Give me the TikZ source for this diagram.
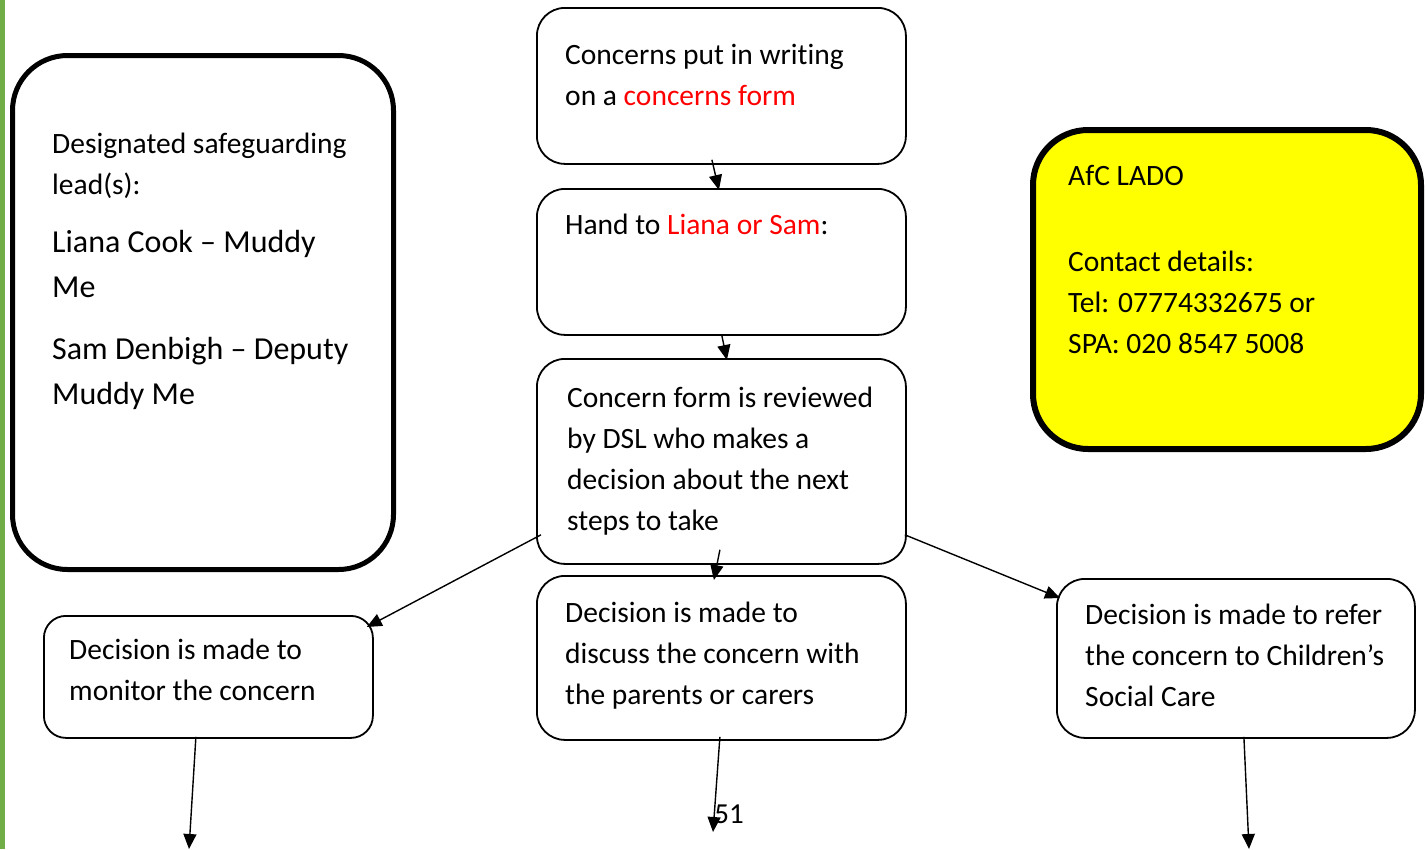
\documentclass[tikz,border=0pt]{standalone}
\usepackage{fontspec}
\setmainfont{Carlito}[Ligatures=NoCommon]
\usepackage{tikz}
\usetikzlibrary{positioning,arrows.meta}
\definecolor{barGreen}{HTML}{70AD47}
\definecolor{formRed}{HTML}{FF0000}
\definecolor{ladoYellow}{HTML}{FFFF00}
\tikzset{
  box/.style={draw,line width=1.8pt,rounded corners=28pt,anchor=north west,inner sep=0pt},
  bigbox/.style={box,line width=5pt,rounded corners=55pt},
  txt/.style={anchor=north west,inner sep=0pt,align=left,font=\fontsize{29.5}{41}\selectfont},
  bigtxt/.style={txt,font=\fontsize{32}{45}\selectfont},
  arr/.style={line width=1.4pt,-{Triangle[length=15pt,width=13pt]}}
}

\begin{document}
\begin{tikzpicture}[x=1pt,y=-1pt]
    \useasboundingbox (0,0) rectangle (1427,849);
    \fill[barGreen] (0,0) rectangle (5,849);

    % boxes
    \node[bigbox,minimum width=381pt,minimum height=514pt] (dsl) at (10,53) {};
    \node[bigbox,fill=ladoYellow,line width=6pt,minimum width=388pt,minimum height=319pt] (lado) at (1030,127) {};
    \node[box,minimum width=369pt,minimum height=156pt] (writing) at (536,7) {};
    \node[box,minimum width=369pt,minimum height=146pt] (hand) at (536,188) {};
    \node[box,minimum width=369pt,minimum height=205pt] (review) at (536,358) {};
    \node[box,minimum width=369pt,minimum height=164pt] (discuss) at (536,575) {};
    \node[box,rounded corners=22pt,minimum width=329pt,minimum height=122pt] (monitor) at (43,615) {};
    \node[box,minimum width=358pt,minimum height=159pt] (refer) at (1056,578) {};

    % texts
    \node[txt] (dslhead) at (52,133) {Designated safeguarding\\lead(s):};
    \node[bigtxt] (dslcook) at (52,230) {Liana Cook -- Muddy\\Me};
    \node[bigtxt] (dsldeputy) at (52,337) {Sam Denbigh -- Deputy\\Muddy Me};
    \node[txt] (ladotxt) at (1068,165) {AfC LADO\\[45pt]Contact details:\\Tel: 07774332675 or\\SPA: 020 8547 5008};
    \node[txt] (writingtxt) at (565,44) {Concerns put in writing\\on a \textcolor{formRed}{concerns form}};
    \node[txt] (handtxt) at (565,214) {Hand to \textcolor{formRed}{Liana or Sam}:};
    \node[txt] (reviewtxt) at (567,387) {Concern form is reviewed\\by DSL who makes a\\decision about the next\\steps to take};
    \node[txt] (discusstxt) at (565,602) {Decision is made to\\discuss the concern with\\the parents or carers};
    \node[txt] (monitortxt) at (69,639) {Decision is made to\\monitor the concern};
    \node[txt] (refertxt) at (1085,604) {Decision is made to refer\\the concern to Children’s\\Social Care};
    \node[font=\fontsize{29}{30}\selectfont,inner sep=0pt] (pagenum) at (729,814) {51};

    % arrows
    \coordinate (monitorEnd) at (189,849);
    \coordinate (discussEnd) at (713,832);
    \coordinate (referEnd) at (1249,849);
    \draw[arr] ([xshift=-9.5pt,yshift=5pt]writing.south) -- ([xshift=-2.5pt,yshift=-2pt]hand.north);
    \draw[arr] ([xshift=0.5pt]hand.south) -- ([xshift=5.5pt,yshift=-2pt]review.north);
    \draw[arr] ([xshift=-1.5pt,yshift=15pt]review.south) -- ([xshift=-7.5pt,yshift=-5pt]discuss.north);
    \draw[arr] ([xshift=5pt,yshift=30pt]review.south west) -- ([xshift=-7pt,yshift=-12pt]monitor.north east);
    \draw[arr] ([xshift=-2pt,yshift=30pt]review.south east) -- ([xshift=4pt,yshift=-20pt]refer.north west);
    \draw[arr] ([xshift=-12.5pt,yshift=2pt]monitor.south) -- (monitorEnd);
    \draw[arr] ([xshift=-1.5pt,yshift=4pt]discuss.south) -- (discussEnd);
    \draw[arr] ([xshift=8pt,yshift=2pt]refer.south) -- (referEnd);
\end{tikzpicture}
\end{document}
